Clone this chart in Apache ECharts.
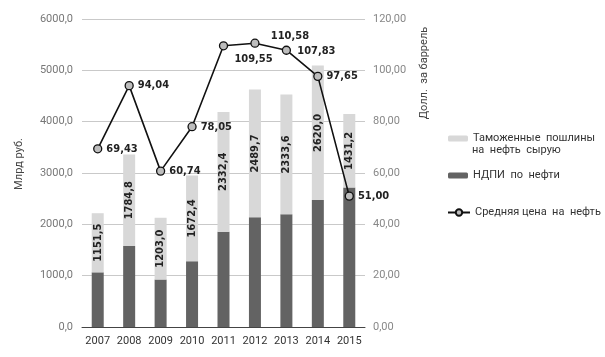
<!DOCTYPE html>
<html>
<head>
<meta charset="utf-8">
<script src="https://cdn.jsdelivr.net/npm/echarts@6/dist/echarts.min.js"></script>
<style>
  html, body { margin: 0; padding: 0; background: #fff; }
  #chart { width: 605px; height: 357px; }
</style>
</head>
<body>
<div id="chart"></div>
<script>
const years = ['2007', '2008', '2009', '2010', '2011', '2012', '2013', '2014', '2015'];
// НДПИ по нефти, млрд руб.
const ndpi = [1065, 1577, 925, 1280, 1857, 2136, 2195, 2472, 2716];
// Таможенные пошлины на нефть сырую, млрд руб.
const duties = [1151.5, 1784.8, 1203.0, 1672.4, 2332.4, 2489.7, 2333.6, 2620.0, 1431.2];
// Средняя цена на нефть, долл. за баррель
const oilPrice = [69.43, 94.04, 60.74, 78.05, 109.55, 110.58, 107.83, 97.65, 51.00];

const leftTicks = { min: 0, max: 6000, interval: 1000 };
const rightTicks = { min: 0, max: 120, interval: 20 };

const comma = (v, d) => v.toFixed(d).replace('.', ',');

const font = 'Roboto, "DejaVu Sans", sans-serif';
const labelFont = '"DejaVu Sans Condensed", "DejaVu Sans", sans-serif';

// label placement differs for the points near the peak
const priceOffsets = {
  4: [30, 13],
  5: [35, -7],
  6: [30, 1]
};

const chart = echarts.init(document.getElementById('chart'));

chart.setOption({
  animation: false,
  textStyle: { fontFamily: font },
  grid: { left: 82, right: 240, top: 19, bottom: 30 },
  legend: [
    {
      data: [{ name: 'Таможенные пошлины на нефть сырую' }],
      left: 443, top: 128, itemWidth: 20, itemHeight: 6,
      formatter: () => 'Таможенные  пошлины',
      textStyle: { fontFamily: font, fontSize: 11, color: '#333' },
      selectedMode: false
    },
    {
      data: [{ name: 'НДПИ по нефти' }],
      left: 443, top: 165, itemWidth: 20, itemHeight: 6,
      formatter: () => 'НДПИ  по  нефти',
      textStyle: { fontFamily: font, fontSize: 11, color: '#333' },
      selectedMode: false
    },
    {
      data: [{ name: 'Средняя цена на нефть' }],
      left: 442, top: 202, itemWidth: 22, itemHeight: 8,
      formatter: () => 'Средняя цена  на  нефть',
      textStyle: { fontFamily: font, fontSize: 11, color: '#333' },
      selectedMode: false
    }
  ],
  xAxis: {
    type: 'category',
    data: years,
    axisTick: { show: false },
    axisLine: { lineStyle: { color: '#444', width: 1 } },
    axisLabel: { color: '#333', fontSize: 11, margin: 9, interval: 0, fontFamily: font }
  },
  yAxis: [
    {
      type: 'value',
      min: leftTicks.min, max: leftTicks.max, interval: leftTicks.interval,
      axisLine: { show: false },
      axisTick: { show: false },
      splitLine: { lineStyle: { color: '#c9c9c9', width: 1 } },
      axisLabel: { color: '#777', fontSize: 11, margin: 9, formatter: v => comma(v, 1) }
    },
    {
      type: 'value',
      min: rightTicks.min, max: rightTicks.max, interval: rightTicks.interval,
      axisLine: { show: false },
      axisTick: { show: false },
      splitLine: { show: false },
      axisLabel: { color: '#888', fontSize: 11, margin: 8, formatter: v => comma(v, 2) }
    }
  ],
  graphic: [
    {
      type: 'text', x: 19, y: 164, rotation: Math.PI / 2,
      style: { text: 'Млрд руб.', fill: '#444', font: '11px ' + font, textAlign: 'center', textVerticalAlign: 'middle' }
    },
    {
      type: 'text', x: 424, y: 73, rotation: Math.PI / 2,
      style: { text: 'Долл.  за баррель', fill: '#444', font: '11px ' + font, textAlign: 'center', textVerticalAlign: 'middle' }
    },
    {
      type: 'text', x: 472, y: 150,
      style: { text: 'на  нефть  сырую', fill: '#333', font: '11px ' + font, textAlign: 'left', textVerticalAlign: 'middle' }
    }
  ],
  series: [
    {
      name: 'НДПИ по нефти',
      type: 'bar',
      stack: 'tax',
      barWidth: 12,
      itemStyle: { color: '#636363' },
      data: ndpi
    },
    {
      name: 'Таможенные пошлины на нефть сырую',
      type: 'bar',
      stack: 'tax',
      barWidth: 12,
      itemStyle: { color: '#d8d8d8' },
      label: {
        show: true,
        position: 'inside',
        rotate: 90,
        fontFamily: labelFont,
        fontWeight: 'bold',
        fontSize: 11,
        color: '#222',
        formatter: p => comma(p.value, 1)
      },
      data: duties
    },
    {
      name: 'Средняя цена на нефть',
      type: 'line',
      yAxisIndex: 1,
      symbol: 'circle',
      symbolSize: 8,
      z: 5,
      lineStyle: { color: '#111', width: 1.6 },
      itemStyle: { color: '#bdbdbd', borderColor: '#111', borderWidth: 1.3 },
      label: {
        show: true,
        position: 'right',
        distance: 4,
        fontFamily: labelFont,
        fontWeight: 'bold',
        fontSize: 11,
        color: '#222',
        formatter: p => comma(p.value, 2)
      },
      data: oilPrice.map((v, i) => priceOffsets[i]
        ? { value: v, label: { position: 'inside', offset: priceOffsets[i] } }
        : v)
    }
  ]
});
</script>
</body>
</html>
